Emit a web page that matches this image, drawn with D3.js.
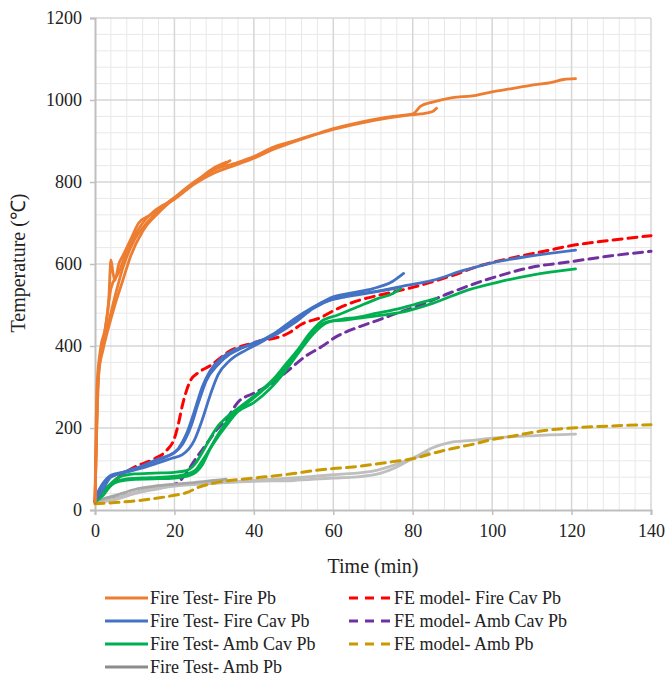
<!DOCTYPE html>
<html>
<head>
<meta charset="utf-8">
<script src="https://cdn.jsdelivr.net/npm/d3@7"></script>
<style>
  body { margin: 0; background: #fff; }
  svg text { font-family: "Liberation Serif", "Times New Roman", serif; fill: #222; }
</style>
</head>
<body>
<div id="chart"></div>
<script>
// ---- data: [time (min), temperature (C)] ----
const fireA = [[0,20],[0.3,150],[0.8,330],[1.5,380],[3,440],[5,520],[7,590],[10,660],[13,700],[16,730],[20,762],[25,800],[30,830],[35,845],[40,862],[45,885],[50,900],[55,915],[60,930],[65,942],[70,952],[75,960],[80,966],[82,985],[85,995],[90,1006],[95,1010],[100,1020],[105,1028],[110,1036],[115,1043],[118,1050],[121,1052]];
const fireB = [[0,20],[0.5,250],[1,340],[2,400],[3,470],[4,540],[6,580],[8,630],[10,670],[12,700],[15,730],[20,758],[25,795],[30,822],[35,840],[40,858],[45,880],[50,898],[60,928],[70,950],[78,962],[82,966],[85,972],[86,980]];
const fireC = [[0,20],[0.5,300],[1.5,400],[2.5,440],[3.5,520],[4,610],[4.5,580],[5,560],[6,600],[7,620],[9,660],[11,700],[14,720],[18,748],[22,775],[26,805],[30,830],[34,852]];
const fireD = [[0,20],[1,340],[2,390],[3,430],[5,500],[7,560],[9,620],[12,680],[16,725],[20,760],[25,798],[30,835],[33,848]];

const cavA = [[0,25],[1,45],[3,75],[5,85],[8,95],[12,108],[16,125],[20,140],[22,160],[24,200],[26,260],[28,315],[31,355],[34,380],[37,395],[40,408],[45,425],[50,455],[55,492],[60,515],[65,525],[70,532],[77,545],[85,560],[93,585],[100,603],[110,620],[121,634]];
const cavB = [[0,30],[2,65],[4,85],[7,92],[10,100],[14,115],[18,130],[21,150],[23,185],[25,240],[27,300],[29,340],[32,372],[35,390],[40,405],[45,430],[50,465],[55,495],[60,520],[65,530],[70,540],[75,558],[77.7,577]];
const cavC = [[0,22],[2,50],[4,80],[7,90],[11,100],[15,112],[19,125],[22,135],[25,170],[27,220],[29,280],[31,330],[34,365],[38,390],[42,410],[47,440],[52,475],[57,505],[62,518],[68,528],[76,541]];

const ambCavA = [[0,20],[2,35],[4,60],[6,70],[10,75],[15,76],[20,78],[24,85],[27,110],[29,150],[31,185],[34,225],[38,258],[42,290],[46,325],[50,370],[53,410],[56,445],[59,460],[63,463],[68,470],[72,475],[77,482],[85,504],[94,537],[102,557],[110,573],[121,588]];
const ambCavB = [[0,22],[2,45],[5,68],[8,76],[12,78],[17,80],[21,83],[25,95],[27,120],[30,165],[33,205],[36,240],[40,262],[44,295],[48,340],[51,380],[55,430],[58,455],[62,465],[66,470],[71,480],[76,490],[80,500],[86,516]];
const ambCavC = [[0,25],[3,55],[6,80],[10,88],[15,90],[20,92],[23,96],[25,110],[27,140],[29,175],[31,205],[33,225],[37,255],[41,285],[45,320],[48,355],[51,390],[54,430],[57,460],[61,475],[66,495],[71,515],[75,528],[77,540]];

const ambA = [[0,18],[5,25],[10,40],[15,50],[20,58],[30,65],[40,72],[50,78],[60,86],[70,95],[76,112],[81,131],[85,152],[89,164],[95,170],[100,175],[110,181],[121,185]];
const ambB = [[0,20],[5,28],[10,43],[15,53],[20,60],[30,66],[40,70],[50,72],[60,78],[65,80],[72,90],[76,105],[80,125],[84,140]];
const ambC = [[0,22],[5,35],[10,50],[15,58],[20,63],[25,67],[30,72],[33,75]];

const feFireCav = [[0,20],[3,50],[6,80],[10,105],[15,125],[18,145],[20,175],[21,210],[22,255],[23,290],[24,315],[26,335],[29,352],[34,388],[40,408],[49,433],[52,453],[57,470],[60,486],[66,510],[72,525],[80,543],[90,572],[97,596],[105,615],[114,633],[120,645],[130,658],[140,669]];
const feAmbCav = [[0,20],[5,28],[10,42],[15,52],[19,60],[21,68],[23,90],[25,120],[28,160],[31,200],[33,220],[36,263],[40,285],[44,305],[48,335],[53,375],[57,398],[61,424],[66,445],[71,462],[76,480],[82,500],[89,528],[95,550],[100,566],[110,592],[120,606],[130,620],[140,631]];
const feAmb = [[0,15],[5,18],[10,22],[15,28],[20,36],[23,42],[26,55],[30,66],[35,73],[40,78],[45,83],[50,89],[55,96],[60,101],[65,105],[70,111],[75,118],[80,125],[85,138],[90,150],[95,160],[100,172],[105,180],[110,189],[115,196],[120,200],[130,205],[140,208]];

const xTicks = [0, 20, 40, 60, 80, 100, 120, 140];
const yTicks = [0, 200, 400, 600, 800, 1000, 1200];

const series = [
  { name: "Fire Test- Fire Pb", color: "#ED7D31", dash: null, curves: [fireA, fireB, fireC, fireD] },
  { name: "Fire Test- Fire Cav Pb", color: "#4472C4", dash: null, curves: [cavA, cavB, cavC] },
  { name: "Fire Test- Amb Cav Pb", color: "#00B050", dash: null, curves: [ambCavA, ambCavB, ambCavC] },
  { name: "Fire Test- Amb Pb", color: "#BFBFBF", legendColor: "#8C8C8C", dash: null, curves: [ambA, ambB, ambC] },
  { name: "FE model- Fire Cav Pb", color: "#FF0000", dash: "9,6", curves: [feFireCav] },
  { name: "FE model- Amb Cav Pb", color: "#7030A0", dash: "9,6", curves: [feAmbCav] },
  { name: "FE model- Amb Pb", color: "#C99A00", dash: "9,6", curves: [feAmb] }
];

const width = 666, height = 681,
      margin = ({ top: 18, right: 15, bottom: 171, left: 95 });

const svg = d3.select("#chart").append("svg")
    .attr("width", width)
    .attr("height", height);

const x = d3.scaleLinear().domain([0, 140]).range([margin.left, width - margin.right]);
const y = d3.scaleLinear().domain([0, 1200]).range([height - margin.bottom, margin.top]);

// minor grid (every 4 min / 40 C)
svg.append("g").selectAll("line")
  .data(d3.range(4, 140, 4).filter(v => v % 20 !== 0))
  .join("line")
    .attr("x1", d => x(d)).attr("x2", d => x(d))
    .attr("y1", y(0)).attr("y2", y(1200))
    .attr("stroke", "#e8e8e8").attr("stroke-width", 1);
svg.append("g").selectAll("line")
  .data(d3.range(40, 1200, 40).filter(v => v % 200 !== 0))
  .join("line")
    .attr("x1", x(0)).attr("x2", x(140))
    .attr("y1", d => y(d)).attr("y2", d => y(d))
    .attr("stroke", "#e8e8e8").attr("stroke-width", 1);

// major grid
svg.append("g").selectAll("line")
  .data(xTicks.slice(1))
  .join("line")
    .attr("x1", d => x(d)).attr("x2", d => x(d))
    .attr("y1", y(0)).attr("y2", y(1200))
    .attr("stroke", "#d6d6d6").attr("stroke-width", 1.5);
svg.append("g").selectAll("line")
  .data(yTicks.slice(1))
  .join("line")
    .attr("x1", x(0)).attr("x2", x(140))
    .attr("y1", d => y(d)).attr("y2", d => y(d))
    .attr("stroke", "#d6d6d6").attr("stroke-width", 1.5);

// axes
const xAxis = svg.append("g")
    .attr("transform", `translate(0,${y(0)})`)
    .call(d3.axisBottom(x).tickValues(xTicks).tickFormat(d3.format("d")).tickSize(5).tickPadding(9));
const yAxis = svg.append("g")
    .attr("transform", `translate(${x(0)},0)`)
    .call(d3.axisLeft(y).tickValues(yTicks).tickFormat(d3.format("d")).tickSize(5).tickPadding(8));
[xAxis, yAxis].forEach(a => {
  a.attr("font-family", "Liberation Serif").attr("font-size", 18);
  a.select(".domain").attr("stroke", "#bfbfbf").attr("stroke-width", 2);
  a.selectAll(".tick line").attr("stroke", "#bfbfbf").attr("stroke-width", 1.5);
  a.selectAll("text").attr("fill", "#222");
});

// curves
const line = d3.line()
    .x(d => x(d[0]))
    .y(d => y(d[1]))
    .curve(d3.curveMonotoneX);

const drawOrder = [5, 3, 6, 4, 2, 1, 0];
drawOrder.forEach(i => {
  const s = series[i];
  svg.append("g").selectAll("path")
    .data(s.curves)
    .join("path")
      .attr("d", line)
      .attr("fill", "none")
      .attr("stroke", (d, j) => (i === 3 && j === 2) ? "#A6A6A6" : s.color)
      .attr("stroke-width", s.dash ? 3 : 2.8)
      .attr("stroke-dasharray", s.dash)
      .attr("stroke-linecap", "round")
      .attr("stroke-linejoin", "round");
});

// axis titles
svg.append("text")
    .attr("x", x(70)).attr("y", 573)
    .attr("text-anchor", "middle")
    .style("font-size", "20px")
    .text("Time (min)");
svg.append("text")
    .attr("transform", `translate(25,${y(600) - 1}) rotate(-90)`)
    .attr("text-anchor", "middle")
    .style("font-size", "20px")
    .text("Temperature (℃)");

// legend
const legend = svg.append("g");
series.forEach((s, i) => {
  const col = i < 4 ? 0 : 1;
  const row = i < 4 ? i : i - 4;
  const lx = col === 0 ? 105 : 349;
  const ly = 598 + row * 23;
  legend.append("line")
      .attr("x1", lx).attr("x2", lx + 43)
      .attr("y1", ly).attr("y2", ly)
      .attr("stroke", s.legendColor || s.color)
      .attr("stroke-width", 3)
      .attr("stroke-dasharray", s.dash ? "9,7" : null);
  legend.append("text")
      .attr("x", lx + 45).attr("y", ly + 6)
      .style("font-size", "18px")
      .text(s.name);
});
</script>
</body>
</html>
